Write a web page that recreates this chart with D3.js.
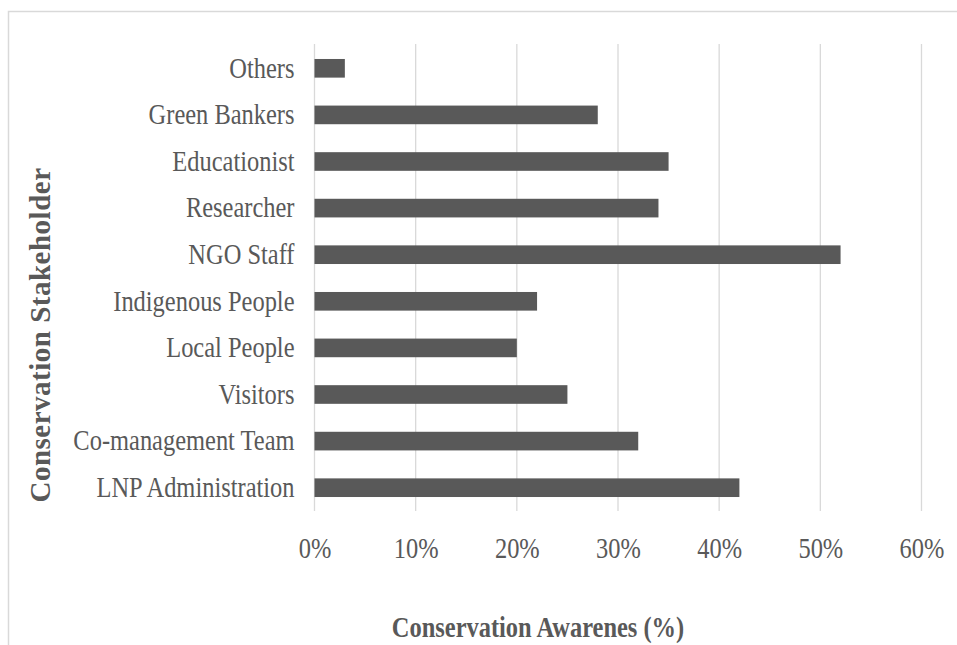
<!DOCTYPE html>
<html>
<head>
<meta charset="utf-8">
<script src="https://cdn.jsdelivr.net/npm/d3@7/dist/d3.min.js"></script>
<style>
  html, body { margin: 0; padding: 0; background: #fff; }
  svg { display: block; }
</style>
</head>
<body>
<svg id="chart" width="957" height="645"></svg>
<script>
const categories = ["Others", "Green Bankers", "Educationist", "Researcher", "NGO Staff",
  "Indigenous People", "Local People", "Visitors", "Co-management Team", "LNP Administration"];
const values = [3, 28, 35, 34, 52, 22, 20, 25, 32, 42];
const xTicks = [0, 10, 20, 30, 40, 50, 60];
const xTitle = "Conservation Awarenes (%)";
const yTitle = "Conservation Stakeholder";

const svg = d3.select("#chart");
const SX = 0.815;
const textColor = "#595959";
const font = "'Liberation Serif', 'Times New Roman', serif";

// outer border
svg.append("rect")
  .attr("x", 8.5).attr("y", 11.5)
  .attr("width", 980).attr("height", 660)
  .attr("fill", "none").attr("stroke", "#d9d9d9").attr("stroke-width", 1.5);

const x = d3.scaleLinear().domain([0, 60]).range([314.5, 921.5]);
const y = d3.scaleBand().domain(categories).range([45, 511]).paddingInner(0.6).paddingOuter(0.3);

// gridlines
svg.append("g")
  .selectAll("line")
  .data(xTicks)
  .join("line")
  .attr("x1", d => x(d)).attr("x2", d => x(d))
  .attr("y1", 44).attr("y2", 511)
  .attr("stroke", "#d9d9d9").attr("stroke-width", 1.3);

// bars
svg.append("g")
  .selectAll("rect")
  .data(values)
  .join("rect")
  .attr("x", x(0))
  .attr("y", (d, i) => y(categories[i]))
  .attr("width", d => x(d) - x(0))
  .attr("height", y.bandwidth())
  .attr("fill", "#595959");

// x axis
const xAxis = svg.append("g")
  .attr("transform", "translate(0,511)")
  .call(d3.axisBottom(x).tickValues(xTicks).tickFormat(d => d + "%").tickSize(0));
xAxis.select(".domain").remove();
xAxis.selectAll("text")
  .attr("font-family", font).attr("font-size", 30).attr("fill", textColor)
  .attr("dy", 0).attr("y", 47)
  .attr("transform", `scale(${SX},1)`);

// y axis
const yAxis = svg.append("g")
  .attr("transform", `translate(${x(0)},0)`)
  .call(d3.axisLeft(y).tickSize(0));
yAxis.select(".domain").remove();
yAxis.selectAll("text")
  .attr("font-family", font).attr("font-size", 30).attr("fill", textColor)
  .attr("x", -20 / SX).attr("dy", "0.31em")
  .attr("transform", `scale(${SX},1)`);

// x title
svg.append("text")
  .attr("transform", `translate(538,637) scale(${SX},1)`)
  .attr("text-anchor", "middle")
  .attr("font-family", font).attr("font-size", 30).attr("font-weight", "bold")
  .attr("fill", textColor)
  .text(xTitle);

// y title
svg.append("text")
  .attr("transform", "translate(50,335) rotate(-90)")
  .attr("text-anchor", "middle")
  .attr("font-family", font).attr("font-size", 29).attr("font-weight", "bold")
  .attr("letter-spacing", 0.5)
  .attr("fill", textColor)
  .text(yTitle);
</script>
</body>
</html>
